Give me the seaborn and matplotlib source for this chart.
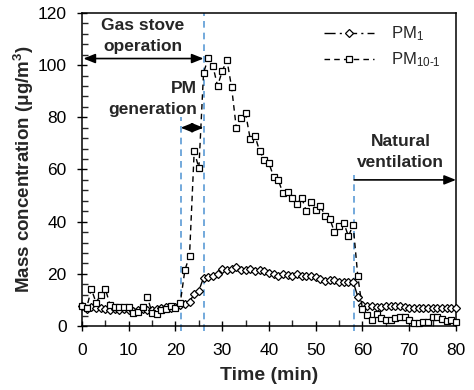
import numpy as np
import pandas as pd
import matplotlib
matplotlib.use("Agg")
import matplotlib.pyplot as plt
import seaborn as sns
from matplotlib.ticker import MultipleLocator

# ---------------- data ----------------
time_min = list(range(0, 81))

pm1 = [7.5, 6.5, 7.2, 7.0, 6.8, 6.5, 6.3, 6.5, 6.3, 6.5,
       6.3, 5.8, 6.0, 6.5, 6.0, 6.2, 6.5, 6.8, 7.2, 7.0,
       7.3, 8.0, 8.5, 9.3, 12.3, 13.6, 18.5, 18.7, 19.2, 20.0,
       21.8, 21.3, 21.8, 22.6, 21.3, 21.5, 21.8, 20.9, 21.5, 20.9,
       20.3, 19.9, 19.2, 20.0, 19.6, 19.2, 19.9, 19.2, 19.2, 19.2,
       18.7, 18.2, 17.4, 17.7, 17.7, 17.0, 16.7, 17.0, 16.9, 11.3,
       7.9, 7.6, 7.5, 7.4, 7.4, 7.5, 7.5, 7.6, 7.5, 7.4,
       7.0, 7.0, 7.0, 7.0, 7.0, 7.0, 7.0, 7.0, 7.0, 7.0, 7.0]

pm10_1 = [7.5, 7.0, 14.2, 9.0, 11.9, 14.2, 8.1, 7.4, 7.4, 7.4,
          7.4, 5.0, 5.5, 7.4, 11.0, 5.0, 4.8, 6.2, 6.5, 7.5,
          7.0, 8.7, 21.3, 27.0, 67.0, 60.5, 97.0, 102.7, 99.6, 92.0,
          97.7, 102.0, 91.5, 76.0, 79.7, 81.5, 71.5, 72.8, 67.0, 63.6,
          62.3, 57.2, 55.9, 50.8, 51.3, 49.1, 46.9, 49.1, 44.0, 47.4,
          44.6, 45.9, 42.3, 41.2, 36.0, 38.2, 39.5, 34.4, 38.8, 19.0,
          6.4, 4.2, 2.3, 4.6, 3.0, 2.3, 2.3, 3.0, 3.3, 3.6,
          2.3, 1.0, 1.3, 1.7, 1.7, 3.6, 3.6, 2.6, 2.0, 2.3, 1.7]

series_labels = [r"PM$_{\mathregular{1}}$", r"PM$_{\mathregular{10\text{-}1}}$"]

x_ticks = [0, 10, 20, 30, 40, 50, 60, 70, 80]
y_ticks = [0, 20, 40, 60, 80, 100, 120]

# phase boundaries (min)
t_gen_start = 21.1
t_stove_end = 26.0
t_vent_start = 58.2

# ---------------- style ----------------
sns.set_style("ticks")
plt.rcParams["font.family"] = ["Liberation Sans", "DejaVu Sans"]
plt.rcParams["mathtext.fontset"] = "custom"
plt.rcParams["mathtext.rm"] = "Liberation Sans"
plt.rcParams["mathtext.default"] = "regular"

fig = plt.figure(figsize=(4.74, 3.90), dpi=100)
ax = fig.add_axes([0.173, 0.164, 0.962 - 0.173, 0.967 - 0.164])

df = pd.DataFrame({"t": time_min, "pm1": pm1, "pm10_1": pm10_1})

sns.lineplot(data=df, x="t", y="pm1", ax=ax, color="black",
             linestyle=(0, (8, 3, 1.5, 3)), linewidth=1.0,
             marker="D", markersize=4.2, markerfacecolor="white",
             markeredgecolor="black", markeredgewidth=0.9,
             label=series_labels[0], clip_on=False, zorder=3)
sns.lineplot(data=df, x="t", y="pm10_1", ax=ax, color="black",
             linestyle=(0, (4, 3)), linewidth=1.0,
             marker="s", markersize=4.0, markerfacecolor="white",
             markeredgecolor="black", markeredgewidth=0.9,
             label=series_labels[1], clip_on=False, zorder=4)

ax.set_xlim(0, 80)
ax.set_ylim(0, 120)
ax.set_xticks(x_ticks)
ax.set_yticks(y_ticks)
ax.xaxis.set_minor_locator(MultipleLocator(5))
ax.yaxis.set_minor_locator(MultipleLocator(4))
ax.tick_params(axis="both", which="major", direction="inout", length=7,
               width=1, labelsize=12.5, colors="black")
ax.tick_params(axis="x", which="major", pad=8.5)
ax.tick_params(axis="y", which="major", pad=7.5)
ax.tick_params(axis="both", which="minor", direction="in", length=4, width=1)
for s in ax.spines.values():
    s.set_color("black")
    s.set_linewidth(1.1)

ax.set_xlabel("Time (min)", fontsize=14, fontweight="bold", labelpad=7)
ax.set_ylabel("Mass concentration (μg/m$^{3}$)", fontsize=13.5,
              fontweight="bold", labelpad=1)

# phase lines
vcol = "#5B9BD5"
ax.plot([t_gen_start, t_gen_start], [-1.8, 80], color=vcol, lw=1.2,
        ls=(0, (4, 3)), clip_on=False, zorder=2)
ax.plot([t_stove_end, t_stove_end], [-1.8, 120], color=vcol, lw=1.2,
        ls=(0, (4, 3)), clip_on=False, zorder=2)
ax.plot([t_vent_start, t_vent_start], [-1.8, 58], color=vcol, lw=1.2,
        ls=(0, (4, 3)), clip_on=False, zorder=2)

# arrows
ap2 = dict(arrowstyle="<|-|>,head_length=0.7,head_width=0.28", color="black",
           lw=1.2, shrinkA=0, shrinkB=0)
ap1 = dict(arrowstyle="-|>,head_length=0.7,head_width=0.28", color="black",
           lw=1.2, shrinkA=0, shrinkB=0)
ax.annotate("", xy=(0.3, 102.5), xytext=(t_stove_end, 102.5), arrowprops=ap2)
ax.annotate("", xy=(t_gen_start, 76), xytext=(t_stove_end, 76), arrowprops=ap2)
ax.annotate("", xy=(80, 56), xytext=(t_vent_start, 56), arrowprops=ap1)

# annotation text
ax.text(13.0, 111.2, "Gas stove\noperation", ha="center", va="center",
        fontsize=12.5, fontweight="bold", linespacing=1.5)
ax.text(24.6, 86.9, "PM\ngeneration", ha="right", va="center",
        multialignment="right", fontsize=12.5, fontweight="bold",
        linespacing=1.5)
ax.text(68.2, 66.5, "Natural\nventilation", ha="center", va="center",
        fontsize=12.5, fontweight="bold", linespacing=1.5)

leg = ax.legend(loc="upper right", bbox_to_anchor=(0.99, 1.0), frameon=False,
                fontsize=12, handlelength=3.0, handletextpad=1.0,
                labelspacing=0.45, borderaxespad=0.3)

fig.savefig("out.png", dpi=100, facecolor="white")
